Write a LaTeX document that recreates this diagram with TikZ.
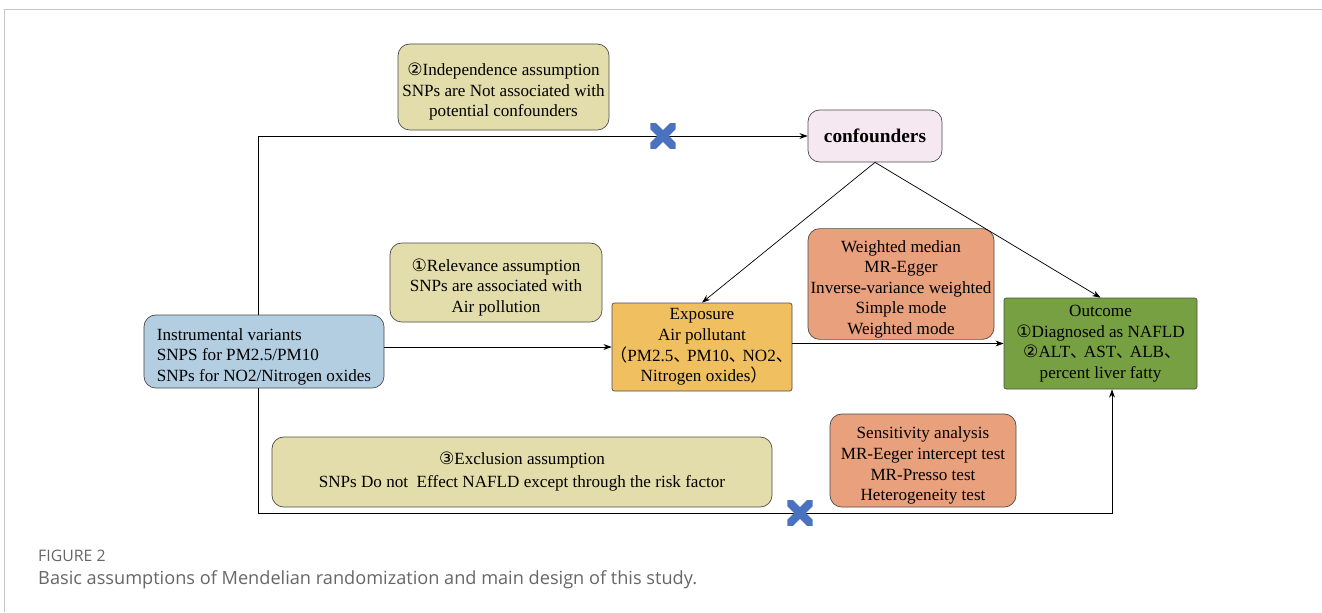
\documentclass[tikz,border=0pt]{standalone}
\usepackage{fontspec}
\setmainfont{Liberation Serif}
\newfontfamily\circfont{DejaVu Sans}
\newfontfamily\cjk{Noto Sans CJK SC}
\newfontfamily\capfont{Open Sans}
\usetikzlibrary{arrows.meta}
\definecolor{khaki}{HTML}{E3DDAB}
\definecolor{pinkish}{HTML}{F6E8F0}
\definecolor{skyblue}{HTML}{B3CDE1}
\definecolor{amber}{HTML}{EFBF60}
\definecolor{salmon}{HTML}{E9A07D}
\definecolor{leaf}{HTML}{76A042}
\definecolor{xblue}{HTML}{4A72BE}
\def\one{\smash{\circfont\char"2460}}
\def\two{\smash{\circfont\char"2461}}
\def\three{\smash{\circfont\char"2462}}
\def\dun{\makebox[0.8em][l]{\cjk 、}}
\def\lpar{\makebox[0.75em][r]{\cjk （}}
\def\rpar{\makebox[0.75em][l]{\cjk ）}}
\def\topgap{\rule{0pt}{19pt}}
\tikzset{
	mrbox/.style={draw=black!70, line width=0.6pt, rounded corners=10pt, align=center, inner sep=1pt, font=\fontsize{14.6}{17.6}\selectfont},
	sqbox/.style={mrbox, rounded corners=2pt},
	link/.style={line width=0.6pt, -{Stealth[length=7pt,width=5pt]}},
	xmark/.style={minimum size=0.76cm, inner sep=0pt, path picture={
		\draw[line width=7pt, xblue] (path picture bounding box.south west) -- (path picture bounding box.north east);
		\draw[line width=7pt, xblue] (path picture bounding box.north west) -- (path picture bounding box.south east);}},
}

\begin{document}
\begin{tikzpicture}[x=0.03cm, y=-0.03cm]
			%%%%% START %%%%%
			
			\useasboundingbox (0, 0) rectangle (1322, 612);
			\draw[color=black!22, line width=0.8pt] (4, 612) -- (4, 9) -- (1322, 9);
			
			\node[mrbox, fill=khaki, minimum width=6.33cm, minimum height=2.58cm] (indep) at (503.5, 87) {\topgap\two Independence assumption\\SNPs are Not associated with\\potential confounders};
			\node[mrbox, fill=pinkish, minimum width=4.02cm, minimum height=1.56cm, font=\fontsize{16.5}{19}\selectfont\bfseries] (conf) at (875, 136) {confounders};
			\node[mrbox, fill=khaki, minimum width=6.36cm, minimum height=2.37cm] (relev) at (496, 282.5) {\topgap\one Relevance assumption\\SNPs are associated with\\Air pollution};
			\node[mrbox, fill=skyblue, minimum width=7.2cm, minimum height=2.19cm, align=left] (instr) at (264, 351.5) {\topgap Instrumental variants\\SNPS for PM2.5/PM10\\SNPs for NO2/Nitrogen oxides};
			\node[sqbox, fill=amber, minimum width=5.4cm, minimum height=2.64cm, inner xsep=0pt] (expo) at (702, 347) {Exposure\\Air pollutant\\\lpar PM2.5\dun PM10\dun NO2\dun\\Nitrogen oxides\rpar};
			\node[mrbox, fill=salmon, minimum width=5.58cm, minimum height=3.24cm] (meth) at (901, 284) {\topgap Weighted median\\MR-Egger\\Inverse-variance weighted\\Simple mode\\Weighted mode};
			\node[sqbox, fill=leaf, minimum width=5.79cm, minimum height=2.73cm] (outc) at (1100.5, 343.5) {Outcome\\\one Diagnosed as NAFLD\\\two ALT\dun AST\dun ALB\dun\\percent liver fatty};
			\node[mrbox, fill=khaki, minimum width=15cm, minimum height=2.1cm, font=\fontsize{14.6}{19}\selectfont] (excl) at (522, 472) {\three Exclusion assumption\\SNPs Do not\ \ Effect NAFLD except through the risk factor};
			\node[mrbox, fill=salmon, minimum width=5.58cm, minimum height=2.79cm] (sens) at (923, 460.5) {\topgap Sensitivity analysis\\MR-Eeger intercept test\\MR-Presso test\\Heterogeneity test};
			
			% corners of the two side paths
			\coordinate (tl) at (258, 136);
			\coordinate (bl) at (258, 513);
			\coordinate (br) at (1112, 513);
			
			\draw[link] (tl |- instr.north) -- (tl) -- (conf.west);
			\draw[link] (tl |- instr.south) -- (bl) -- (br) -- (br |- outc.south);
			\draw[link] (instr.east |- expo) -- (expo.west);
			\draw[link] (expo.east |- outc) -- (outc.west);
			\draw[link] (conf.south) -- (expo.north);
			\draw[link] (conf.south) -- (outc.north);
			
			\node[xmark] (x1) at (663, 136) {};
			\node[xmark] (x2) at (800, 513) {};
			
			\node[anchor=west, inner sep=0pt, color=black!60, font=\capfont\fontsize{13.5}{16}\selectfont] (fig) at (38, 556) {FIGURE 2};
			\node[anchor=west, inner sep=0pt, color=black!60, font=\capfont\fontsize{15.5}{18}\selectfont] (capt) at (38, 580) {Basic assumptions of Mendelian randomization and main design of this study.};
			
			%%%%% END %%%%%
\end{tikzpicture}
\end{document}
